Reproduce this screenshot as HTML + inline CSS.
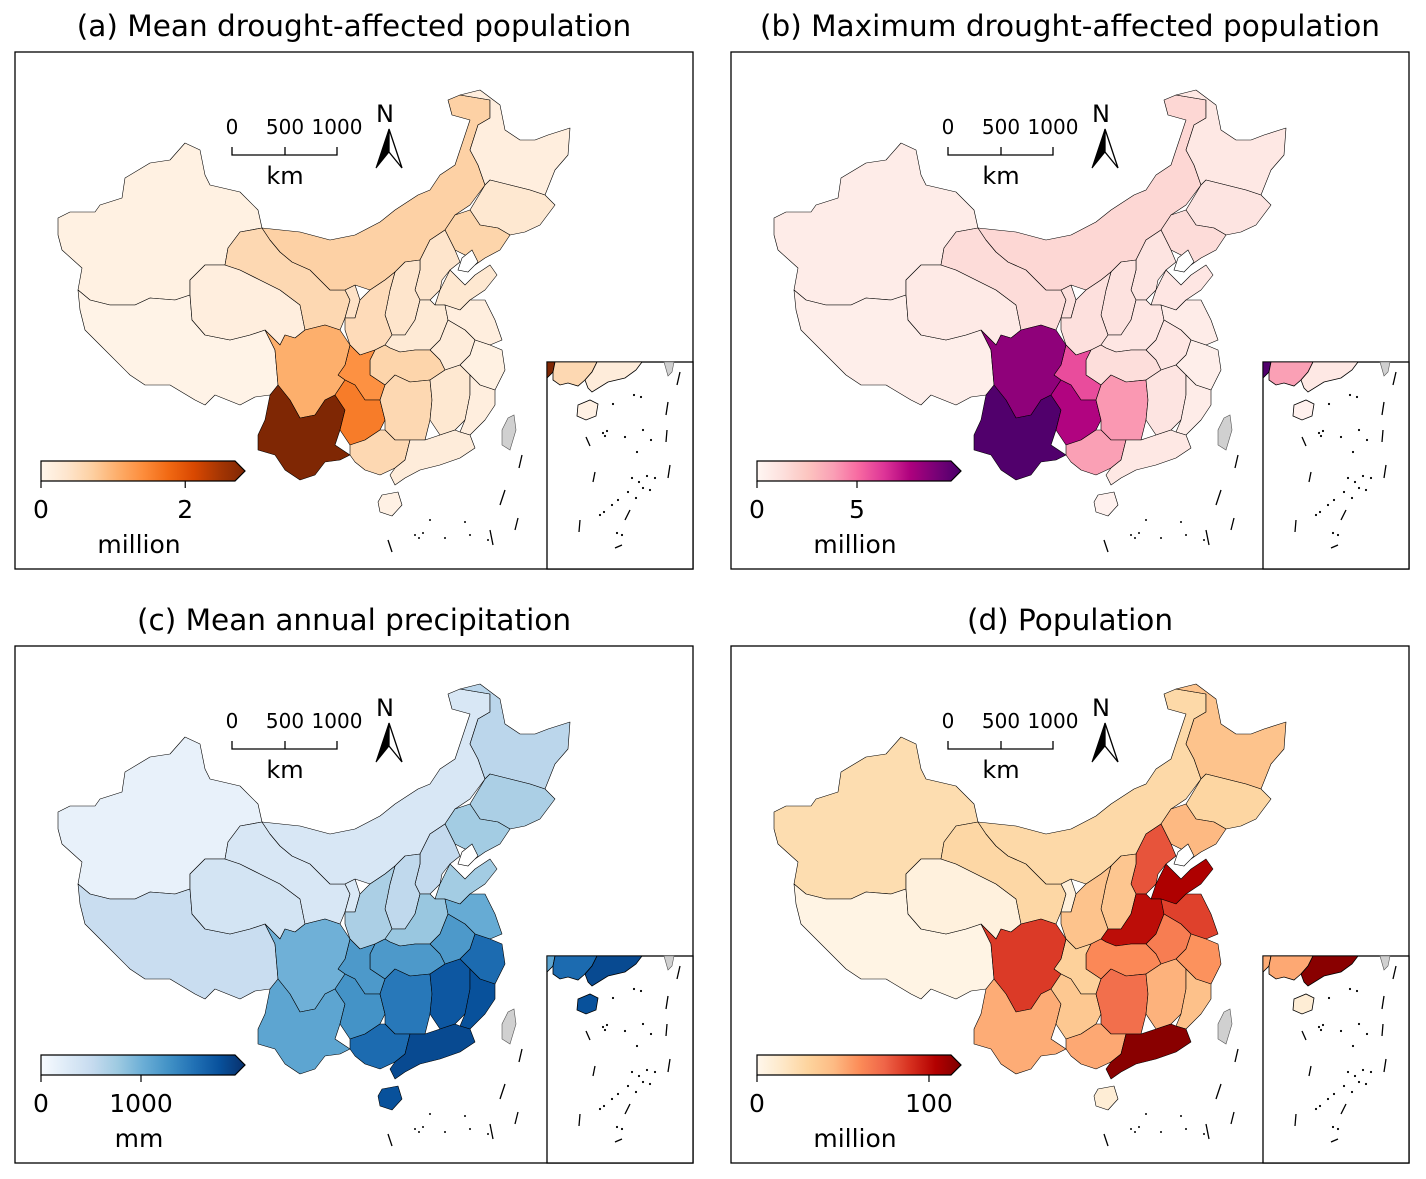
<!DOCTYPE html>
<html><head><meta charset="utf-8">
<style>
html,body{margin:0;padding:0;background:#fff;}
svg{display:block;font-family:"DejaVu Sans","Liberation Sans",sans-serif;}
</style></head>
<body>
<svg id="fig" width="1426" height="1179" viewBox="0 0 1426 1179" xmlns="http://www.w3.org/2000/svg"></svg>
<script>
// ---- data ----
const provinces=['XJ','XZ','QH','GS','NX','NM','HL','JL','LN','HE','SX','SN','SD','HA','JS','AH','ZJ','HB','CQ','SC','YN','GZ','HN','JX','FJ','GX','GD','HI'];
const meanDrought=[0.1,0.05,0.15,0.55,0.4,0.65,0.15,0.3,0.6,0.35,0.35,0.5,0.3,0.25,0.15,0.2,0.1,0.6,1.3,1.0,2.8,1.5,0.55,0.3,0.15,0.55,0.2,0.08];
const maxDrought=[0.6,0.5,0.7,1.4,1.2,1.6,0.8,1.0,1.4,1.0,1.1,1.2,0.9,0.9,0.6,0.9,0.5,1.3,5.5,8.0,9.5,7.2,3.8,1.0,0.6,3.6,0.8,0.3];
const precip=[150,450,350,300,280,300,550,650,700,500,520,650,700,750,1000,1150,1500,1150,1150,950,1050,1200,1400,1650,1700,1500,1750,1700];
const population=[22,3,6,26,7,25,38,27,43,75,36,38,100,95,80,62,55,58,30,82,47,35,67,45,39,48,110,9];
const tickA=[0,2], tickB=[0,5], tickC=[0,1000], tickD=[0,100];
const vmaxA=2.69, vmaxB=9.7, vmaxC=1940, vmaxD=112.8;

// ---- geometry (shape outlines, panel-a coordinates) ----
const shapes={
XJ:"58,218 70,212 95,212 100,205 122,198 125,178 150,163 170,160 185,143 200,150 205,175 210,185 240,192 258,210 262,228 240,232 228,248 225,265 205,265 190,280 190,295 175,300 150,298 135,305 110,305 90,300 78,290 82,268 62,250 58,235",
XZ:"78,290 90,300 110,305 135,305 150,298 175,300 190,295 192,320 205,335 230,340 250,335 265,330 275,350 278,385 270,395 255,397 240,405 215,395 205,405 195,400 170,385 145,385 130,375 100,345 85,330 80,310",
QH:"190,280 205,265 225,265 240,270 260,280 280,290 300,305 305,330 295,338 285,335 280,345 265,330 250,335 230,340 205,335 192,320 190,295",
GS:"225,265 228,248 240,232 262,228 270,240 280,252 292,262 310,270 330,290 345,290 350,300 345,318 340,330 325,325 305,330 300,305 280,290 260,280 240,270",
NX:"345,290 355,285 360,300 355,318 345,318 350,300",
NM:"262,228 300,232 330,240 355,235 380,222 395,210 418,195 430,190 440,175 455,165 470,120 452,115 448,100 460,95 490,100 490,118 478,125 470,150 478,165 485,185 470,205 455,215 445,230 430,240 420,260 405,262 395,272 385,280 370,290 355,285 345,290 330,290 310,270 292,262 280,252 270,240",
HL:"460,95 480,90 500,105 505,130 520,140 535,140 548,135 570,128 568,155 555,170 545,195 530,190 510,185 490,180 485,185 478,165 470,150 478,125 490,118 490,100",
JL:"485,185 490,180 510,185 530,190 545,195 555,205 540,225 525,232 510,235 498,228 480,225 470,210",
LN:"470,210 480,225 498,228 510,235 500,250 485,258 475,265 465,255 455,250 450,240 445,230 455,215",
HE:"445,230 450,240 455,250 460,262 450,270 442,280 440,290 430,300 420,300 415,290 420,270 420,260 430,240",
SX:"395,272 405,262 420,260 420,270 415,290 420,300 415,320 405,335 392,335 385,315 390,290",
SN:"370,290 385,280 395,272 390,290 385,315 392,335 385,345 375,350 360,355 350,345 345,330 345,318 355,318 360,300",
SD:"440,290 450,270 465,285 475,275 490,265 497,275 485,290 470,300 460,310 445,305 435,305",
HA:"392,335 405,335 415,320 420,300 430,300 435,305 445,305 448,320 440,340 430,350 415,350 400,352 390,348 385,345",
JS:"460,310 470,300 485,300 495,320 502,340 490,345 475,340 465,330 448,320 445,305",
AH:"448,320 465,330 475,340 470,355 460,365 445,370 440,360 430,350 440,340",
ZJ:"475,340 490,345 502,350 505,370 495,390 480,385 470,375 460,365 470,355",
HB:"375,350 385,345 390,348 400,352 415,350 430,350 440,360 445,370 430,380 410,382 395,375 385,385 370,375 370,360",
CQ:"350,345 360,355 375,350 370,360 370,375 385,385 380,400 365,400 355,385 345,380 338,375 345,365",
SC:"265,330 280,345 285,335 295,338 305,330 325,325 340,330 350,345 345,365 338,375 345,380 335,395 325,400 315,415 300,418 290,400 278,385 275,350",
YN:"278,385 290,400 300,418 315,415 325,400 335,395 345,410 340,430 335,445 350,455 340,460 325,462 315,475 300,480 285,470 275,455 258,450 258,435 265,420 270,395",
GZ:"345,380 355,385 365,400 380,400 385,420 380,430 365,440 350,445 340,430 345,410 335,395",
HN:"380,400 385,385 395,375 410,382 430,380 432,400 430,420 425,440 410,440 395,440 385,430 385,420",
JX:"430,380 445,370 460,365 470,375 470,395 465,420 455,430 440,435 430,420 432,400",
FJ:"470,375 480,385 495,390 495,405 485,420 470,435 460,432 465,420 470,395",
GX:"350,445 365,440 380,430 385,430 395,440 410,440 405,460 395,468 380,475 365,470 355,462 350,455",
GD:"410,440 425,440 440,435 455,430 460,432 470,435 475,448 460,458 440,465 420,470 405,478 395,485 390,475 395,468 405,460",
HI:"382,495 398,492 402,505 392,516 380,512 378,502"
};
const insetShapes={
YN:"547,362 555,362 553,372 547,378",
GX:"555,362 597,362 592,372 585,380 578,386 568,383 560,385 553,380 553,372",
GD:"597,362 642,362 636,370 625,378 608,382 592,392 588,388 585,380 592,372",
HI:"578,405 590,400 598,404 596,416 586,420 577,416"
};
const dashesMain=[[388,540,392,552],[505,490,500,505],[522,455,519,468],[490,530,493,545],[518,518,515,530]];
const dashesInset=[[680,372,677,385],[668,402,666,415],[667,430,666,442],[670,465,668,478],[586,437,590,446],[595,472,593,482],[580,520,579,532],[630,510,625,520],[615,548,622,545]];
const dotsInset=[[603,433],[607,431],[605,436],[625,437],[634,395],[641,397],[613,404],[643,430],[637,452],[651,440],[632,478],[639,482],[647,476],[643,488],[628,492],[618,500],[636,498],[600,515],[612,505],[650,490],[655,478],[617,533],[622,535],[604,512]];
const dotsMain=[[415,535],[419,538],[423,533],[445,538],[470,535],[488,540],[465,522],[430,520]];

const cmaps={
 Oranges:['#fff5eb','#fee6ce','#fdd0a2','#fdae6b','#fd8d3c','#f16913','#d94801','#a63603','#7f2704'],
 RdPu:['#fff7f3','#fde0dd','#fcc5c0','#fa9fb5','#f768a1','#dd3497','#ae017e','#7a0177','#49006a'],
 Blues:['#f7fbff','#deebf7','#c6dbef','#9ecae1','#6baed6','#4292c6','#2171b5','#08519c','#08306b'],
 OrRd:['#fff7ec','#fee8c8','#fdd49e','#fdbb84','#fc8d59','#ef6548','#d7301f','#b30000','#7f0000']
};
function hex2rgb(h){return [1,3,5].map(i=>parseInt(h.substr(i,2),16));}
function cmap(name,t){
  const s=cmaps[name]; t=Math.max(0,Math.min(1,t));
  const f=t*(s.length-1), i=Math.min(Math.floor(f),s.length-2), r=f-i;
  const a=hex2rgb(s[i]), b=hex2rgb(s[i+1]);
  return 'rgb('+a.map((v,k)=>Math.round(v+(b[k]-v)*r)).join(',')+')';
}

const NS='http://www.w3.org/2000/svg';
const fig=document.getElementById('fig');
function mk(tag,attrs,parent){const e=document.createElementNS(NS,tag);for(const k in attrs)e.setAttribute(k,attrs[k]);(parent||fig).appendChild(e);return e;}

const panels=[
 {id:'a',dx:0,dy:0,title:'(a) Mean drought-affected population',vals:meanDrought,cm:'Oranges',vmax:vmaxA,ticks:tickA,unit:'million'},
 {id:'b',dx:716,dy:0,title:'(b) Maximum drought-affected population',vals:maxDrought,cm:'RdPu',vmax:vmaxB,ticks:tickB,unit:'million'},
 {id:'c',dx:0,dy:594,title:'(c) Mean annual precipitation',vals:precip,cm:'Blues',vmax:vmaxC,ticks:tickC,unit:'mm'},
 {id:'d',dx:716,dy:594,title:'(d) Population',vals:population,cm:'OrRd',vmax:vmaxD,ticks:tickD,unit:'million'}
];

panels.forEach(p=>{
  const g=mk('g',{transform:`translate(${p.dx},${p.dy})`});
  
  
  const t=mk('text',{x:354,y:36,'text-anchor':'middle','font-size':29.5,fill:'#000'},g);
  t.textContent=p.title;
  
  
  const fr=mk('rect',{x:15,y:52,width:678,height:517,fill:'#fff',stroke:'#000','stroke-width':1.3},g);
  
  
  const col=v=>cmap(p.cm,v/p.vmax);
  provinces.forEach((pr,i)=>{
    const pg=mk('polygon',{points:shapes[pr],fill:col(p.vals[i]),stroke:'#000','stroke-width':0.6,'stroke-linejoin':'round'},g);
    
    
  });
  const tw=mk('polygon',{points:"508,418 514,415 516,430 510,450 502,445 502,430",fill:'#d0d0d0',stroke:'#555','stroke-width':0.6},g);
  
  
  const lake=mk('polygon',{points:"462,258 472,250 478,262 468,272 458,270",fill:'#fff',stroke:'#000','stroke-width':0.6},g);
  
  
  dashesMain.forEach(d=>{const l=mk('line',{x1:d[0],y1:d[1],x2:d[2],y2:d[3],stroke:'#000','stroke-width':1.3},g);
    
    });
  dotsMain.forEach(d=>{const c=mk('circle',{cx:d[0],cy:d[1],r:1,fill:'#000'},g);
    
    });
  // inset
  const ins=mk('rect',{x:547,y:362,width:146,height:207,fill:'#fff',stroke:'#000','stroke-width':1.3},g);
  
  
  Object.keys(insetShapes).forEach(k=>{
    const i=provinces.indexOf(k);
    const pg=mk('polygon',{points:insetShapes[k],fill:col(p.vals[i]),stroke:'#000','stroke-width':0.8},g);
    
    
  });
  const tw2=mk('polygon',{points:"664,362 674,362 672,372 668,376",fill:'#d0d0d0',stroke:'#555','stroke-width':0.6},g);
  
  
  dashesInset.forEach(d=>{const l=mk('line',{x1:d[0],y1:d[1],x2:d[2],y2:d[3],stroke:'#000','stroke-width':1.3},g);
    
    });
  dotsInset.forEach(d=>{const c=mk('circle',{cx:d[0],cy:d[1],r:1.1,fill:'#000'},g);
    
    });
  // colorbar
  const gid='grad'+p.id;
  const defs=mk('defs',{},g);
  const lg=mk('linearGradient',{id:gid,x1:0,y1:0,x2:1,y2:0},defs);
  cmaps[p.cm].forEach((c,i,a)=>mk('stop',{offset:(i/(a.length-1)),'stop-color':c},lg));
  const cb=mk('path',{d:'M41,461 L235,461 L245,471 L235,481 L41,481 Z',fill:`url(#${gid})`,stroke:'#000','stroke-width':1.2},g);
  
  
  const cbx=v=>41+194*v/p.vmax;
  p.ticks.forEach(v=>{
    const x=cbx(v);
    const tl=mk('line',{x1:x,y1:481,x2:x,y2:488,stroke:'#000','stroke-width':1.2},g);
    
    
    const tx=mk('text',{x:x,y:518,'text-anchor':'middle','font-size':25},g);
    tx.textContent=String(v);
    
    
  });
  const un=mk('text',{x:139,y:553,'text-anchor':'middle','font-size':25},g);
  un.textContent=p.unit;
  
  
  // scale bar
  const sb=mk('path',{d:'M232,147 L232,155 L337,155 L337,147 M285,155 L285,147',fill:'none',stroke:'#000','stroke-width':1.3},g);
  
  
  [['0',232],['500',285],['1000',337]].forEach(s=>{
    const tx=mk('text',{x:s[1],y:134,'text-anchor':'middle','font-size':20},g);
    tx.textContent=s[0];
    
    
  });
  const km=mk('text',{x:285,y:184,'text-anchor':'middle','font-size':24},g);
  km.textContent='km';
  
  
  // north arrow
  const nt=mk('text',{x:385,y:122,'text-anchor':'middle','font-size':24},g);
  nt.textContent='N';
  
  
  const na=mk('path',{d:'M389,129 L376,168 L389,152 Z',fill:'#000',stroke:'#000','stroke-width':1},g);
  
  
  const nb=mk('path',{d:'M389,129 L402,168 L389,152 Z',fill:'#fff',stroke:'#000','stroke-width':1.3},g);
  
  
});
</script>
</body></html>
